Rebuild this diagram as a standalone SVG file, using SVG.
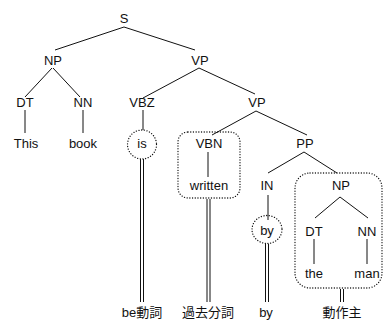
<svg xmlns="http://www.w3.org/2000/svg" width="384" height="320" viewBox="0 0 384 320">
<style>
text{font-family:"Liberation Sans","Noto Sans CJK JP",sans-serif;font-size:13px;fill:#111;text-anchor:middle}
.e{stroke:#111;stroke-width:1;fill:none}
.d{stroke:#111;stroke-width:1.3;fill:none;stroke-dasharray:0.1 2.6;stroke-linecap:round}
</style>
<rect width="384" height="320" fill="#fff"/>
<g id="connectors">
<line class="e" x1="124" y1="27" x2="55" y2="50"/>
<line class="e" x1="124" y1="27" x2="195" y2="50"/>
<line class="e" x1="52" y1="68" x2="25" y2="97"/>
<line class="e" x1="53" y1="68" x2="80" y2="97"/>
<line class="e" x1="199" y1="68" x2="143" y2="98"/>
<line class="e" x1="199" y1="68" x2="255" y2="94"/>
<line class="e" x1="25" y1="110" x2="25" y2="133"/>
<line class="e" x1="83" y1="110" x2="83" y2="133"/>
<line class="e" x1="143" y1="110" x2="143" y2="130"/>
<line class="e" x1="256" y1="111" x2="212" y2="135"/>
<line class="e" x1="256" y1="111" x2="307" y2="135"/>
<line class="e" x1="208" y1="152" x2="208" y2="177"/>
<line class="e" x1="304" y1="152" x2="268" y2="173"/>
<line class="e" x1="304" y1="152" x2="337" y2="173"/>
<line class="e" x1="268" y1="195" x2="268" y2="220"/>
<line class="e" x1="340" y1="197" x2="315" y2="218"/>
<line class="e" x1="340" y1="197" x2="368" y2="218"/>
<line class="e" x1="314" y1="239" x2="314" y2="264"/>
<line class="e" x1="367" y1="239" x2="367" y2="264"/>
<g class="e">
<line x1="140.5" y1="159" x2="140.5" y2="302"/><line x1="143.5" y1="159" x2="143.5" y2="302"/>
<line x1="207" y1="199" x2="207" y2="302"/><line x1="210" y1="199" x2="210" y2="302"/>
<line x1="265.5" y1="244" x2="265.5" y2="302"/><line x1="268.5" y1="244" x2="268.5" y2="302"/>
<line x1="340.5" y1="289" x2="340.5" y2="302"/><line x1="343.5" y1="289" x2="343.5" y2="302"/>
</g>
</g>
<g id="S"><text x="124" y="23">S</text></g>
<g id="NP1"><text x="53" y="65">NP</text></g>
<g id="VP1"><text x="200" y="65">VP</text></g>
<g id="DT1"><text x="25" y="107">DT</text></g>
<g id="NN1"><text x="83" y="107">NN</text></g>
<g id="VBZ"><text x="142" y="107">VBZ</text></g>
<g id="VP2"><text x="257" y="107">VP</text></g>
<g id="This"><text x="26" y="148">This</text></g>
<g id="book"><text x="83" y="148">book</text></g>
<g id="is"><circle class="d" cx="142" cy="144.5" r="14.5"/><text x="142" y="148">is</text></g>
<g id="VBNgroup"><rect class="d" x="178" y="132" width="62" height="66" rx="10"/>
<text x="209" y="148">VBN</text><text x="209" y="190">written</text></g>
<g id="PP"><text x="305" y="148">PP</text></g>
<g id="IN"><text x="267" y="190">IN</text></g>
<g id="by"><ellipse class="d" cx="267" cy="229.5" rx="15" ry="14"/><text x="267" y="235">by</text></g>
<g id="NPgroup"><rect class="d" x="295" y="173" width="87" height="115" rx="15"/>
<text x="341" y="190">NP</text>
<text x="314" y="236">DT</text><text x="367" y="236">NN</text>
<text x="314" y="278">the</text><text x="367" y="278">man</text></g>
<g id="labels">
<text x="142" y="317">be動詞</text>
<text x="208" y="317">過去分詞</text>
<text x="266" y="317">by</text>
<text x="342" y="317">動作主</text>
</g>
</svg>
